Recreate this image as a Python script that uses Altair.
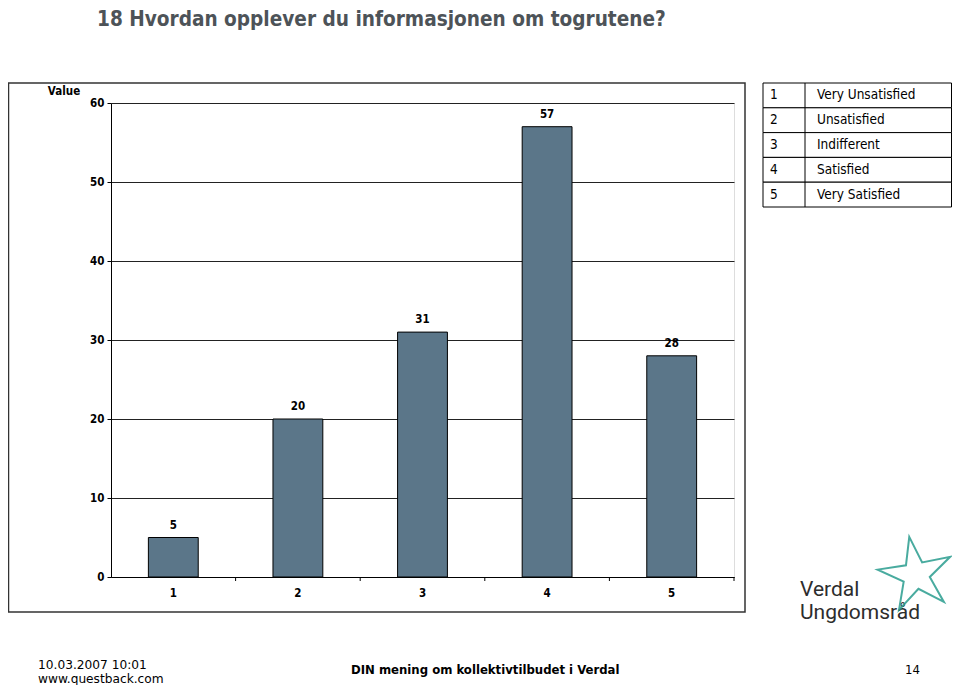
import math
import altair as alt
import pandas as pd

# ---------------- data ----------------
categories = ["1", "2", "3", "4", "5"]
values = [5, 20, 31, 57, 28]
y_ticks = [0, 10, 20, 30, 40, 50, 60]
legend_codes = ["1", "2", "3", "4", "5"]
legend_labels = ["Very Unsatisfied", "Unsatisfied", "Indifferent", "Satisfied", "Very Satisfied"]

title_text = "18 Hvordan opplever du informasjonen om togrutene?"
y_title = "Value"
footer_left = ["10.03.2007 10:01", "www.questback.com"]
footer_center = "DIN mening om kollektivtilbudet i Verdal"
footer_page = "14"
logo_lines = ["Verdal", "Ungdomsråd"]

# ---------------- layout ----------------
W, H = 623, 474
PAD = {"left": 103, "top": 95, "right": 218, "bottom": 108}
BOLD_FONT = "DejaVu Sans Condensed, DejaVu Sans"
BAR_COLOR = "#5b7689"
STEP = W / len(categories)
BANDW = STEP * 0.4

bars_df = pd.DataFrame({"cat": categories, "value": values})
xscale = alt.Scale(domain=categories, paddingInner=0.6, paddingOuter=0.3)
yscale = alt.Scale(domain=[0, 60], nice=False)

base = alt.Chart(bars_df)

bars = base.mark_bar(color=BAR_COLOR, stroke="black", strokeWidth=1).encode(
    x=alt.X("cat:O", scale=xscale, sort=categories,
            axis=alt.Axis(title=None, labelAngle=0, ticks=False, labelPadding=10,
                          labelFont=BOLD_FONT, labelFontWeight="bold", labelFontSize=11.5,
                          labelColor="black", domainColor="black", grid=False)),
    y=alt.Y("value:Q", scale=yscale,
            axis=alt.Axis(title=None, values=y_ticks, tickSize=4, tickColor="black",
                          labelPadding=3, labelFont=BOLD_FONT, labelFontWeight="bold",
                          labelFontSize=11.5, labelColor="black", domainColor="black",
                          grid=True, gridColor="#222222", gridWidth=1)),
)

value_labels = base.mark_text(dy=-7, baseline="bottom", font=BOLD_FONT, fontWeight="bold",
                              fontSize=11.5, color="black").encode(
    x=alt.X("cat:O", scale=xscale, sort=categories),
    y=alt.Y("value:Q", scale=yscale),
    text="value:Q",
)

between_ticks = base.mark_rule(color="black", strokeWidth=1,
                               xOffset=(STEP - BANDW) / 2).encode(
    x=alt.X("cat:O", scale=xscale, sort=categories, bandPosition=1),
    y=alt.value(H),
    y2=alt.value(H + 4),
)

main = alt.layer(bars, value_labels, between_ticks)

one = pd.DataFrame({"k": [0]})

frame = alt.Chart(one).mark_rect(fill="white", fillOpacity=0, stroke="#333333",
                                 strokeWidth=1.5).encode(
    x=alt.value(-102.5), x2=alt.value(634), y=alt.value(-20), y2=alt.value(509)
)


def text_layer(txt, x, y, size, weight="normal", font=BOLD_FONT, color="black",
               align="left", line_height=None):
    kw = {}
    if line_height is not None:
        kw = {"lineBreak": "\n", "lineHeight": line_height}
    return alt.Chart(pd.DataFrame({"t": [txt]})).mark_text(
        align=align, baseline="alphabetic", font=font, fontSize=size,
        fontWeight=weight, color=color, **kw
    ).encode(x=alt.value(x), y=alt.value(y), text="t:N")


title = text_layer(title_text, -14, -77, 20.6, "bold", color="#4d5358")
value_title = text_layer(y_title, -47, -8, 11.5, "bold", align="center")

# legend table
table_df = pd.DataFrame({"code": legend_codes, "label": legend_labels})
tscale = alt.Scale(type="band", domain=legend_codes, range=[-20, 104],
                   paddingInner=0, paddingOuter=0)
tchart = alt.Chart(table_df)
rows = tchart.mark_rect(fill="white", stroke="black", strokeWidth=1).encode(
    y=alt.Y("code:O", scale=tscale, axis=None), x=alt.value(652), x2=alt.value(840.5)
)
divider = alt.Chart(one).mark_rule(color="black", strokeWidth=1).encode(
    x=alt.value(694), y=alt.value(-20), y2=alt.value(104)
)
codes = tchart.mark_text(align="left", baseline="middle", font=BOLD_FONT,
                         fontSize=13.5, color="black").encode(
    y=alt.Y("code:O", scale=tscale, axis=None), x=alt.value(659), text="code:N"
)
labels = tchart.mark_text(align="left", baseline="middle", font=BOLD_FONT,
                          fontSize=13.5, color="black").encode(
    y=alt.Y("code:O", scale=tscale, axis=None), x=alt.value(706), text="label:N"
)
table = alt.layer(rows, divider, codes, labels)

# footer
f1 = text_layer("\n".join(footer_left), -73, 566, 12.2, font="DejaVu Sans", line_height=14)
f3 = text_layer(footer_center, 240, 571, 13, "bold", font=BOLD_FONT)
f4 = text_layer(footer_page, 794, 571, 13, font=BOLD_FONT)

# logo
logo = text_layer("\n".join(logo_lines), 689, 493, 21, font="Roboto", color="#2d2d2d",
                  line_height=23)

pts = []
for i in range(10):
    r = 1.0 if i % 2 == 0 else 0.36
    a = math.radians(-100 + i * 36)
    pts.append((r * math.cos(a), r * math.sin(a)))
star_path = "M " + " L ".join(f"{px:.3f},{py:.3f}" for px, py in pts) + " Z"
star = alt.Chart(one).mark_point(shape=star_path, size=6000, filled=False,
                                 stroke="#2a9d8f", strokeWidth=2, opacity=0.85).encode(
    x=alt.value(805), y=alt.value(472)
)

chart = alt.layer(
    frame, main, title, value_title, table, f1, f3, f4, logo, star
).resolve_scale(y="independent").properties(
    width=W, height=H, padding=PAD,
    autosize=alt.AutoSizeParams(type="none"),
).configure_view(stroke="black", strokeWidth=1).configure(background="white")

chart.save("out.html", embed_options={"renderer": "svg", "actions": False})
